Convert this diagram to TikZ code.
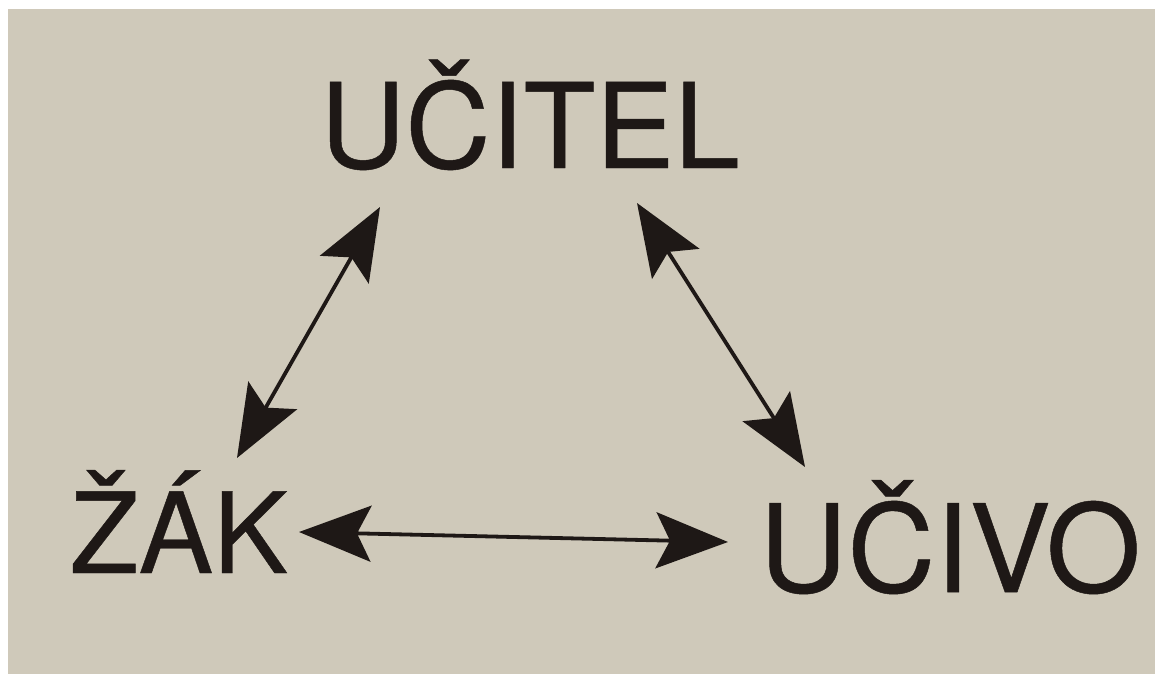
\documentclass[tikz,border=0pt]{standalone}
\usepackage{fontspec}
\setmainfont{TeX Gyre Heros}[FakeBold=0.4]
\usetikzlibrary{arrows.meta, positioning}
\definecolor{paper}{RGB}{207,201,186}
\definecolor{ink}{RGB}{30,24,22}
\tikzset{
    word/.style={font=\fontsize{#1}{#1}\selectfont, inner sep=0pt, anchor=base, text=ink},
    word/.default={59pt},
    biarrow/.style={draw=ink, line width=1.9pt,
        {Stealth[length=36pt, width=28pt, inset=7pt]}-{Stealth[length=36pt, width=28pt, inset=7pt]}}
}
\begin{document}
\begin{tikzpicture}[x=0.5pt, y=-0.5pt]
    \useasboundingbox (0,0) rectangle (1155,674);
    \fill[white] (0,0) rectangle (1155,674);
    \fill[paper] (8,9) rectangle (1155,674);
    \node[word] (ucitel) at (530,168) {UČITEL};
    \node[word=56pt] (zak) at (179,573) {ŽÁK};
    \node[word=61pt] (ucivo) at (950,592) {UČIVO};
    \draw[biarrow] ([shift={(-150,39)}]ucitel.base) -- ([shift={(58,-115)}]zak.base);
    \draw[biarrow] ([shift={(107,35)}]ucitel.base) -- ([shift={(-145,-125)}]ucivo.base);
    \draw[biarrow] ([shift={(120,-41)}]zak.base) -- ([shift={(-222,-50)}]ucivo.base);
\end{tikzpicture}
\end{document}
